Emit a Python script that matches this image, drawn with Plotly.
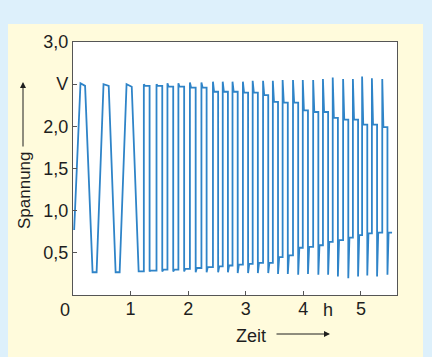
import plotly.graph_objects as go

# ---- data (time in h, voltage in V) ----
# first three slow, triangular cycles (vertices)
tri_t = [0.02, 0.13, 0.21, 0.34, 0.41, 0.53, 0.62, 0.74, 0.81, 0.93, 1.02, 1.14, 1.19]
tri_v = [0.77, 2.51, 2.48, 0.27, 0.27, 2.50, 2.48, 0.27, 0.27, 2.50, 2.47, 0.28, 0.28]

# later, fast quasi-rectangular cycles
rise_t = [1.23, 1.45, 1.64, 1.83, 2.03, 2.23, 2.43, 2.60, 2.77, 2.95, 3.12, 3.30,
          3.47, 3.64, 3.82, 3.99, 4.17, 4.34, 4.51, 4.69, 4.86, 5.02, 5.19, 5.37]
fall_t = [1.33, 1.55, 1.74, 1.93, 2.13, 2.32, 2.52, 2.69, 2.86, 3.04, 3.21, 3.39,
          3.56, 3.73, 3.91, 4.08, 4.26, 4.43, 4.60, 4.78, 4.95, 5.11, 5.28, 5.46]
peak_v = [2.50, 2.50, 2.51, 2.51, 2.52, 2.52, 2.53, 2.53, 2.53, 2.53, 2.54, 2.54,
          2.54, 2.55, 2.55, 2.55, 2.55, 2.56, 2.58, 2.56, 2.56, 2.59, 2.57, 2.56]
top_v = [2.48, 2.48, 2.47, 2.47, 2.46, 2.46, 2.41, 2.41, 2.41, 2.40, 2.40, 2.37,
         2.29, 2.28, 2.28, 2.19, 2.17, 2.17, 2.10, 2.08, 2.08, 2.02, 2.02, 1.99]
trough_v = [0.28, 0.28, 0.28, 0.28, 0.27, 0.27, 0.27, 0.27, 0.26, 0.26, 0.26, 0.26,
            0.25, 0.25, 0.24, 0.25, 0.24, 0.24, 0.22, 0.20, 0.22, 0.23, 0.22, 0.24]
bottom_v = [0.29, 0.30, 0.30, 0.31, 0.32, 0.33, 0.34, 0.35, 0.36, 0.37, 0.38, 0.38,
            0.45, 0.47, 0.56, 0.57, 0.59, 0.63, 0.65, 0.68, 0.71, 0.73, 0.74, 0.74]
end_t = 5.54

y_tickvals = [0.5, 1.0, 1.5, 2.0, 2.5, 3.0]
y_ticktext = ["0,5", "1,0", "1,5", "2,0", "V", "3,0"]
x_tickvals = [1, 2, 3, 4, 5]
x_ticktext = ["1", "2", "3", "4", "5"]

# ---- build the polyline ----
HOOK = 0.02
t = list(tri_t)
v = list(tri_v)
for i in range(len(rise_t)):
    prev = v[-1]
    t += [rise_t[i], rise_t[i], rise_t[i] + HOOK, fall_t[i], fall_t[i], fall_t[i] + HOOK]
    v += [prev, peak_v[i], top_v[i], top_v[i], trough_v[i], bottom_v[i]]
t.append(end_t)
v.append(bottom_v[-1])

LINE = "#2f84c8"
TXT = "#1e1e1e"
FONT = "Liberation Sans, Arial, Helvetica, sans-serif"
FS = 18

fig = go.Figure()
fig.add_trace(go.Scatter(x=t, y=v, mode="lines",
                         line=dict(color=LINE, width=1.8), hoverinfo="skip"))

L, R, T, B = 73, 35, 42, 62
W, H = 432, 357
pw, ph = W - L - R, H - T - B

def px(xp):
    return (xp - L) / pw

def py(yp):
    return (H - B - yp) / ph

fig.update_layout(
    width=W, height=H,
    margin=dict(l=L, r=R, t=T, b=B, pad=0),
    paper_bgcolor="#ddf0fb",
    plot_bgcolor="white",
    showlegend=False,
    font=dict(family=FONT, size=FS, color=TXT),
    xaxis=dict(range=[0, 5.626], tickvals=x_tickvals, ticktext=x_ticktext,
               ticks="inside", ticklen=4, tickcolor="#555", tickwidth=1,
               ticklabelstandoff=-3,
               showline=True, mirror=True, linecolor="#555", linewidth=1.3,
               showgrid=False, zeroline=False, fixedrange=True),
    yaxis=dict(range=[0, 3], tickvals=y_tickvals, ticktext=y_ticktext,
               ticks="inside", ticklen=4, tickcolor="#555", tickwidth=1,
               showline=True, mirror=True, linecolor="#555", linewidth=1.3,
               showgrid=False, zeroline=False, fixedrange=True),
    shapes=[
        dict(type="rect", xref="paper", yref="paper", layer="below",
             x0=px(8), x1=px(423), y0=py(357), y1=py(24),
             fillcolor="#fffbdc", line=dict(width=0)),
        dict(type="rect", xref="paper", yref="paper", layer="below",
             x0=0, x1=1, y0=0, y1=1, fillcolor="white", line=dict(width=0)),
    ],
    annotations=[
        dict(text="0", xref="paper", yref="paper", x=px(65), y=py(310),
             showarrow=False, xanchor="center", yanchor="middle"),
        dict(text="h", xref="x", yref="paper", x=4.43, y=py(310),
             showarrow=False, xanchor="center", yanchor="middle"),
        dict(text="Spannung", xref="paper", yref="paper", x=px(24), y=py(190),
             textangle=-90, showarrow=False, xanchor="center", yanchor="middle",
             font=dict(size=17)),
        dict(text="", xref="paper", yref="paper", x=px(23), y=py(82),
             showarrow=True, ax=0, ay=66, arrowhead=2, arrowsize=1.2,
             arrowwidth=1, arrowcolor=TXT),
        dict(text="Zeit", xref="paper", yref="paper", x=px(251), y=py(336),
             showarrow=False, xanchor="center", yanchor="middle"),
        dict(text="", xref="paper", yref="paper", x=px(330), y=py(334),
             showarrow=True, ax=-55, ay=0, arrowhead=2, arrowsize=1.2,
             arrowwidth=1, arrowcolor=TXT),
    ],
)

fig.write_html("out.html", config={"displayModeBar": False},
               post_script="document.body.style.margin='0';document.body.style.background='#ddf0fb';")
